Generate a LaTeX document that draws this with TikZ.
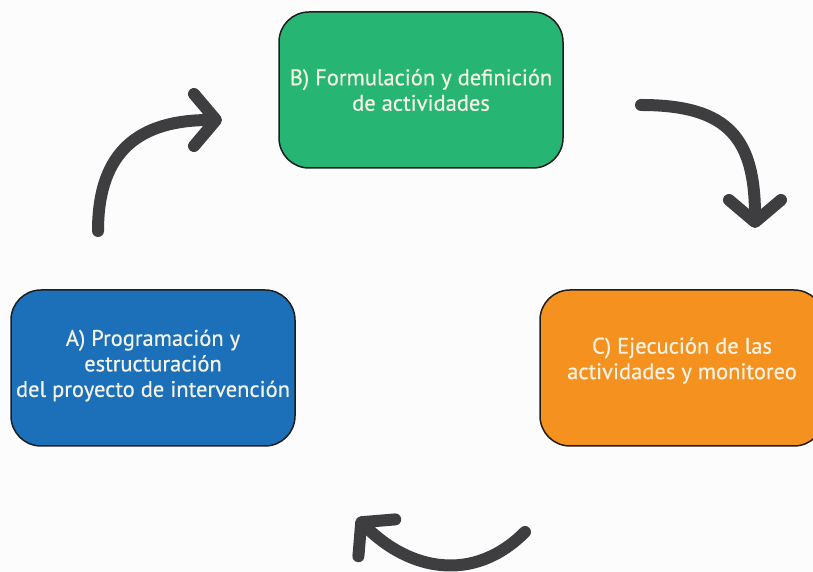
\documentclass[tikz,border=0pt]{standalone}
\usepackage{fontspec}
\setmainfont{PT Sans}[FakeBold=0.6]
\usetikzlibrary{arrows.meta}
\definecolor{bgpaper}{HTML}{FCFCFC}
\definecolor{boxblue}{HTML}{1C70BA}
\definecolor{boxgreen}{HTML}{27B574}
\definecolor{boxorange}{HTML}{F5911E}
\definecolor{boxline}{HTML}{1E1E1E}
\definecolor{boxtext}{HTML}{F4F2E4}
\definecolor{arrowgray}{HTML}{3E3E40}
\begin{document}
\begin{tikzpicture}[x=1pt, y=1pt, main box/.style={rectangle, rounded corners=30pt, draw=boxline, line width=1.5pt, minimum width=284pt, minimum height=156pt, align=center, text=boxtext, font=\fontsize{22.5}{25.5}\selectfont}, cycle arrow/.style={draw=arrowgray, line width=12pt, line cap=round, -{Straight Barb[length=22pt, width=52pt, round]}}]
\useasboundingbox [fill=bgpaper] (0,0) rectangle (813,572);
\clip (0,0) rectangle (813,572);
\begin{scope}[every node/.style={main box}]
\node [fill=boxblue](vA) at (153,204) {A) Programación y\\estructuración\\del proyecto de intervención\\[-16pt]\mbox{}};
\node [fill=boxgreen](vB) at (421,482) {B) Formulación y definición\\de actividades};
\node [fill=boxorange](vC) at (682,204) {C) Ejecución de las\\actividades y monitoreo\\[-6pt]\mbox{}};
\end{scope}
\coordinate (a1) at (98,341);
\coordinate (a2) at (222,452);
\coordinate (b1) at (641,467);
\coordinate (b2) at (755,344);
\coordinate (c1) at (525,40);
\coordinate (c2) at (357,54);
\path [every edge/.style={cycle arrow}]
	(a1) edge [out=90, in=180, looseness=1.25] (a2)
	(b1) edge [out=0, in=90, looseness=1.35] (b2)
	(c1) edge [out=225, in=-45, looseness=1.12] (c2)
	;
\end{tikzpicture}
\end{document}
